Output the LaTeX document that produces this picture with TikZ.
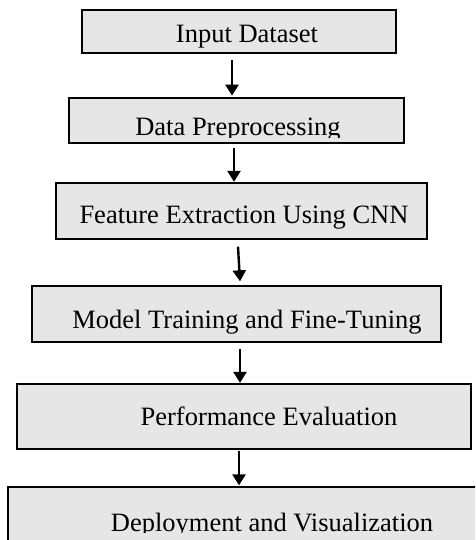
\documentclass[tikz,border=0pt]{standalone}
\usepackage{fontspec}
\setmainfont{Liberation Serif}
\usetikzlibrary{arrows.meta}
\definecolor{boxgray}{RGB}{231,230,231}
\tikzset{
  stepbox/.style={draw=black, fill=boxgray, line width=1.3pt, rectangle, inner sep=0pt},
  steptext/.style={anchor=base, inner sep=0pt, font=\fontsize{26.5}{30}\selectfont},
  arr/.style={line width=2.4pt, -{Triangle[width=13pt,length=11pt]}}
}
\begin{document}
\begin{tikzpicture}[x=1pt,y=-1pt]
\useasboundingbox (0,0) rectangle (475,540);
\fill[white] (0,0) rectangle (475,540);
\begin{scope}
\clip (0,0) rectangle (475,540);
\node[stepbox, minimum width=314pt, minimum height=43pt] (b1) at (239,31.5) {};
\node[stepbox, minimum width=335pt, minimum height=45pt] (b2) at (236.5,120.5) {};
\node[stepbox, minimum width=371pt, minimum height=56pt] (b3) at (241.5,211) {};
\node[stepbox, minimum width=409pt, minimum height=56pt] (b4) at (236.5,314) {};
\node[stepbox, minimum width=454pt, minimum height=65pt] (b5) at (244,416.5) {};
\node[stepbox, minimum width=472pt, minimum height=83pt] (b6) at (244,528.5) {};

\node[steptext] (t1) at (247,43) {Input Dataset};
\begin{scope}
\clip (60,100) rectangle (410,137.5);
\node[steptext] (t2) at (238,136) {Data Preprocessing};
\end{scope}
\node[steptext] (t3) at (244,223) {Feature Extraction Using CNN};
\node[steptext] (t4) at (247,328) {Model Training and Fine-Tuning};
\node[steptext] (t5) at (269,425) {Performance Evaluation};
\begin{scope}
\clip (10,490) rectangle (475,532.5);
\node[steptext] (t6) at (272,531) {Deployment and Visualization};
\end{scope}

\draw[arr] ([xshift=-7pt,yshift=-6pt]b1.south) -- ([xshift=-4.5pt,yshift=1.7pt]b2.north);
\draw[arr] ([xshift=-2.5pt,yshift=-4pt]b2.south) -- ([xshift=-7.5pt,yshift=0.5pt]b3.north);
\draw[arr] ([xshift=-3.5pt,yshift=-7pt]b3.south) -- ([xshift=3.5pt,yshift=4pt]b4.north);
\draw[arr] ([xshift=3.5pt,yshift=-6pt]b4.south) -- ([xshift=-4pt,yshift=0.5pt]b5.north);
\draw[arr] ([xshift=-5pt,yshift=-1pt]b5.south) -- ([xshift=-5pt,yshift=1pt]b6.north);
\end{scope}
\end{tikzpicture}
\end{document}
